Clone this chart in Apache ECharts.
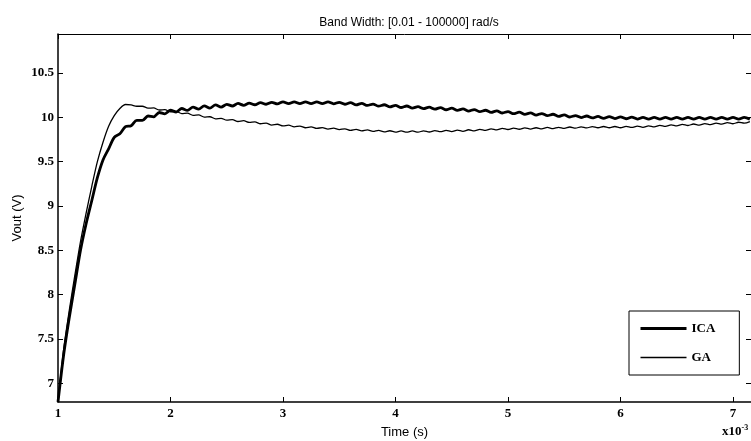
<!DOCTYPE html>
<html>
<head>
<meta charset="utf-8">
<script src="https://cdn.jsdelivr.net/npm/echarts@6/dist/echarts.min.js"></script>
<style>
  html, body { margin: 0; padding: 0; background: #fff; }
  #chart { width: 751px; height: 441px; }
</style>
</head>
<body>
<div id="chart"></div>
<script>
// time axis, in units of 1e-3 s
const time = [
  1.00, 1.05, 1.10, 1.15, 1.20, 1.25, 1.30, 1.35, 1.40, 1.45,
  1.50, 1.55, 1.60, 1.65, 1.70, 1.75, 1.80, 1.85, 1.90, 1.95,
  2.00, 2.05, 2.10, 2.15, 2.20, 2.25, 2.30, 2.35, 2.40, 2.45,
  2.50, 2.55, 2.60, 2.65, 2.70, 2.75, 2.80, 2.85, 2.90, 2.95,
  3.00, 3.05, 3.10, 3.15, 3.20, 3.25, 3.30, 3.35, 3.40, 3.45,
  3.50, 3.55, 3.60, 3.65, 3.70, 3.75, 3.80, 3.85, 3.90, 3.95,
  4.00, 4.05, 4.10, 4.15, 4.20, 4.25, 4.30, 4.35, 4.40, 4.45,
  4.50, 4.55, 4.60, 4.65, 4.70, 4.75, 4.80, 4.85, 4.90, 4.95,
  5.00, 5.05, 5.10, 5.15, 5.20, 5.25, 5.30, 5.35, 5.40, 5.45,
  5.50, 5.55, 5.60, 5.65, 5.70, 5.75, 5.80, 5.85, 5.90, 5.95,
  6.00, 6.05, 6.10, 6.15, 6.20, 6.25, 6.30, 6.35, 6.40, 6.45,
  6.50, 6.55, 6.60, 6.65, 6.70, 6.75, 6.80, 6.85, 6.90, 6.95,
  7.00, 7.05, 7.10, 7.15
];

// Vout of the ICA-tuned controller (thick line)
const icaVout = [
  6.79, 7.32, 7.74, 8.12, 8.50, 8.80, 9.06, 9.32, 9.52, 9.645,
  9.775, 9.815, 9.895, 9.905, 9.965, 9.965, 10.015, 10.005, 10.055, 10.04,
  10.08, 10.06, 10.10, 10.078, 10.115, 10.093, 10.13, 10.105, 10.14, 10.115,
  10.147, 10.128, 10.157, 10.136, 10.16, 10.142, 10.165, 10.148, 10.17, 10.152,
  10.175, 10.155, 10.175, 10.155, 10.175, 10.155, 10.175, 10.155, 10.175, 10.153,
  10.17, 10.148, 10.165, 10.141, 10.158, 10.134, 10.15, 10.126, 10.142, 10.118,
  10.135, 10.111, 10.128, 10.104, 10.12, 10.098, 10.115, 10.093, 10.11, 10.086,
  10.103, 10.079, 10.095, 10.071, 10.088, 10.064, 10.08, 10.056, 10.073, 10.049,
  10.065, 10.041, 10.058, 10.034, 10.05, 10.026, 10.043, 10.019, 10.035, 10.011,
  10.028, 10.004, 10.02, 9.998, 10.015, 9.993, 10.01, 9.989, 10.008, 9.986,
  10.005, 9.984, 10.003, 9.981, 10.0, 9.98, 10.0, 9.98, 10.0, 9.98,
  10.0, 9.98, 10.0, 9.98, 10.0, 9.98, 10.0, 9.98, 10.0, 9.98,
  10.0, 9.98, 10.0, 9.98
];

// Vout of the GA-tuned controller (thin line)
const gaVout = [
  6.79, 7.38, 7.82, 8.22, 8.60, 8.92, 9.22, 9.50, 9.72, 9.90,
  10.02, 10.10, 10.145, 10.14, 10.125, 10.125, 10.104, 10.106, 10.083, 10.087,
  10.063, 10.067, 10.043, 10.047, 10.023, 10.027, 10.003, 10.007, 9.983, 9.989,
  9.968, 9.974, 9.953, 9.962, 9.943, 9.949, 9.928, 9.934, 9.913, 9.922,
  9.903, 9.912, 9.893, 9.902, 9.883, 9.893, 9.875, 9.885, 9.868, 9.878,
  9.861, 9.871, 9.853, 9.864, 9.847, 9.858, 9.841, 9.853, 9.837, 9.849,
  9.833, 9.847, 9.833, 9.847, 9.833, 9.848, 9.835, 9.85, 9.838, 9.853,
  9.84, 9.856, 9.843, 9.86, 9.848, 9.865, 9.853, 9.87, 9.858, 9.875,
  9.863, 9.878, 9.866, 9.881, 9.868, 9.883, 9.871, 9.886, 9.873, 9.888,
  9.876, 9.891, 9.878, 9.893, 9.881, 9.896, 9.883, 9.897, 9.883, 9.897,
  9.883, 9.898, 9.886, 9.901, 9.888, 9.905, 9.893, 9.91, 9.898, 9.915,
  9.903, 9.92, 9.908, 9.925, 9.913, 9.93, 9.918, 9.935, 9.923, 9.94,
  9.928, 9.945, 9.934, 9.952
];

const xTicks = [1, 2, 3, 4, 5, 6, 7];
const yTicks = [7, 7.5, 8, 8.5, 9, 9.5, 10, 10.5];

const chart = echarts.init(document.getElementById('chart'), null, { renderer: 'canvas' });

const tickFont = { fontFamily: 'Liberation Serif', fontWeight: 'bold', fontSize: 13, color: '#000' };
const sansFont = { fontFamily: 'Liberation Sans', fontSize: 12, color: '#000' };

const xRange = { min: 1, max: 7.16 };
const yRange = { min: 6.79, max: 10.94 };

const option = {
  animation: false,
  backgroundColor: '#fff',
  title: {
    text: 'Band Width: [0.01 - 100000] rad/s',
    left: 404,
    textAlign: 'center',
    top: 12,
    textStyle: { ...sansFont, fontWeight: 'normal' },
  },
  grid: {
    left: 58,
    right: 0,
    top: 34,
    bottom: 39,
    show: false,
    outerBoundsMode: 'none',
  },
  legend: {
    orient: 'vertical',
    left: 629,
    top: 311,
    padding: [11, 24, 11, 10],
    itemWidth: 46,
    itemHeight: 14,
    itemGap: 16,
    backgroundColor: '#fff',
    borderColor: '#000',
    borderWidth: 1,
    borderRadius: 0,
    itemStyle: { opacity: 0 },
    textStyle: { ...tickFont },
    data: [
      { name: 'ICA', lineStyle: { width: 3 } },
      { name: 'GA', lineStyle: { width: 1.5 } },
    ],
  },
  xAxis: [
    {
      type: 'value',
      ...xRange,
      interval: 1,
      name: 'Time (s)',
      nameLocation: 'middle',
      nameGap: 24,
      nameMoveOverlap: false,
      nameTextStyle: { ...sansFont, fontSize: 13 },
      axisLine: { show: true, lineStyle: { color: '#000', width: 1.5 } },
      axisTick: { show: true, inside: true, length: 5, lineStyle: { color: '#000' }, customValues: xTicks },
      axisLabel: { ...tickFont, margin: 5, customValues: xTicks },
      splitLine: { show: false },
    },
    {
      type: 'value',
      ...xRange,
      interval: 1,
      position: 'top',
      axisLine: { show: true, lineStyle: { color: '#000', width: 1 } },
      axisTick: { show: true, inside: true, length: 5, lineStyle: { color: '#000' }, customValues: xTicks },
      axisLabel: { show: false },
      splitLine: { show: false },
    },
  ],
  yAxis: [
    {
      type: 'value',
      ...yRange,
      name: 'Vout (V)',
      nameLocation: 'middle',
      nameGap: 34,
      nameMoveOverlap: false,
      nameRotate: 90,
      nameTextStyle: { ...sansFont, fontSize: 13 },
      axisLine: { show: true, lineStyle: { color: '#000', width: 1.5 } },
      axisTick: { show: true, inside: true, length: 5, lineStyle: { color: '#000' }, customValues: yTicks },
      axisLabel: { ...tickFont, margin: 4, customValues: yTicks },
      splitLine: { show: false },
    },
    {
      type: 'value',
      ...yRange,
      position: 'right',
      axisLine: { show: false },
      axisTick: { show: true, inside: true, length: 5, lineStyle: { color: '#000' }, customValues: yTicks },
      axisLabel: { show: false },
      splitLine: { show: false },
    },
  ],
  graphic: [
    {
      type: 'text',
      left: 722,
      top: 424,
      style: {
        text: 'x10{sup|-3}',
        rich: { sup: { fontFamily: 'Liberation Serif', fontWeight: 'bold', fontSize: 8, verticalAlign: 'top', padding: [0, 0, 8, 0] } },
        fontFamily: 'Liberation Serif',
        fontWeight: 'bold',
        fontSize: 13,
        fill: '#000',
      },
    },
  ],
  series: [
    {
      name: 'ICA',
      type: 'line',
      showSymbol: false,
      symbol: 'none',
      smooth: 0.3,
      color: '#000',
      lineStyle: { color: '#000', width: 2.8 },
      data: time.map((t, i) => [t, icaVout[i]]),
    },
    {
      name: 'GA',
      type: 'line',
      showSymbol: false,
      symbol: 'none',
      smooth: 0.3,
      color: '#000',
      lineStyle: { color: '#000', width: 1.3 },
      data: time.map((t, i) => [t, gaVout[i]]),
    },
  ],
};

chart.setOption(option);
</script>
</body>
</html>
